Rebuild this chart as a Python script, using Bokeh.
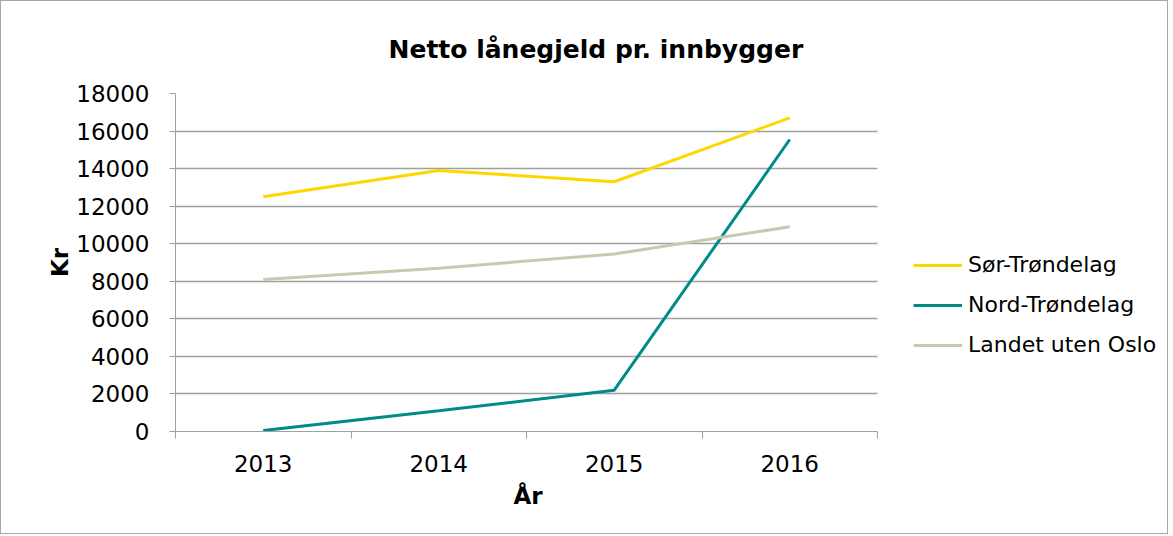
from bokeh.plotting import figure
from bokeh.models import Range1d, FixedTicker, Legend, LegendItem, Title
from bokeh.embed import file_html
from bokeh.resources import INLINE

years = [2013, 2014, 2015, 2016]
sor_trondelag = [12500, 13900, 13300, 16700]
nord_trondelag = [50, 1100, 2200, 15550]
landet_uten_oslo = [8100, 8700, 9450, 10900]
y_ticks = [0, 2000, 4000, 6000, 8000, 10000, 12000, 14000, 16000, 18000]

FONT = "DejaVu Sans"

W, H = 1168, 534
LEFT, TOP, BOTTOM = 174, 92, 104
DATA_PX = 702                       # width of the data area in px
FRAME_PX = W - LEFT                 # frame extends under the legend
x0 = years[0] - 0.5
x1 = years[-1] + 0.5
x_end = x0 + (x1 - x0) * FRAME_PX / DATA_PX

p = figure(width=W, height=H, output_backend="svg", toolbar_location=None,
           x_range=Range1d(x0, x_end),
           y_range=Range1d(y_ticks[0], y_ticks[-1]),
           min_border_left=LEFT, min_border_right=0, min_border_top=TOP, min_border_bottom=BOTTOM)
p.styles = {"border": "1px solid #a6a6a6"}
p.outline_line_color = None
p.background_fill_color = "white"
p.border_fill_color = "white"

p.title.text = "Netto lånegjeld pr. innbygger"
p.title.text_font = FONT
p.title.text_font_size = "25px"
p.title.text_font_style = "bold"
p.title.text_color = "black"
p.title.align = "left"
p.title.offset = 213
p.title.standoff = 60

# x axis
p.xaxis.bounds = (x0, x1)
p.xaxis.ticker = FixedTicker(ticks=years, minor_ticks=[y - 0.5 for y in years] + [x1])
p.xaxis.major_tick_line_color = None
p.xaxis.major_tick_out = 0
p.xaxis.major_tick_in = 0
p.xaxis.minor_tick_out = 7
p.xaxis.minor_tick_in = 0
p.xaxis.minor_tick_line_color = "#a0a0a0"
p.xaxis.axis_line_color = "#a0a0a0"
p.xaxis.major_label_text_font = FONT
p.xaxis.major_label_text_font_size = "23px"
p.xaxis.major_label_text_color = "black"
p.xaxis.major_label_standoff = 16

x_title = Title(text="År", align="left", offset=338, standoff=12,
                text_font=FONT, text_font_size="23px", text_font_style="bold",
                text_color="black")
p.add_layout(x_title, "below")

# y axis
p.yaxis.ticker = FixedTicker(ticks=y_ticks)
p.yaxis.major_tick_out = 6
p.yaxis.major_tick_in = 0
p.yaxis.minor_tick_line_color = None
p.yaxis.major_tick_line_color = "#a0a0a0"
p.yaxis.axis_line_color = "#a0a0a0"
p.yaxis.major_label_text_font = FONT
p.yaxis.major_label_text_font_size = "23px"
p.yaxis.major_label_text_color = "black"
p.yaxis.major_label_standoff = 20
p.yaxis.axis_label = "Kr"
p.yaxis.axis_label_text_font = FONT
p.yaxis.axis_label_text_font_size = "23px"
p.yaxis.axis_label_text_font_style = "bold"
p.yaxis.axis_label_text_color = "black"
p.yaxis.axis_label_standoff = 0

p.xgrid.grid_line_color = None
p.ygrid.grid_line_color = "#a0a0a0"
p.ygrid.grid_line_width = 1.5
p.ygrid.cross_bounds = (x0, x1)

r1 = p.line(years, sor_trondelag, line_color="#FFD700", line_width=3)
r2 = p.line(years, nord_trondelag, line_color="#008B8B", line_width=3)
r3 = p.line(years, landet_uten_oslo, line_color="#CBC7B0", line_width=3)

legend = Legend(items=[LegendItem(label="Sør-Trøndelag", renderers=[r1]),
                       LegendItem(label="Nord-Trøndelag", renderers=[r2]),
                       LegendItem(label="Landet uten Oslo", renderers=[r3])],
                location=(738, 74), padding=0, margin=0, spacing=15,
                glyph_width=49, glyph_height=20, label_height=20, label_standoff=6,
                label_text_font=FONT, label_text_font_size="22px", label_text_color="black",
                border_line_color=None, background_fill_alpha=0)
p.add_layout(legend, "center")

open("out.html", "w").write(file_html(p, INLINE))
